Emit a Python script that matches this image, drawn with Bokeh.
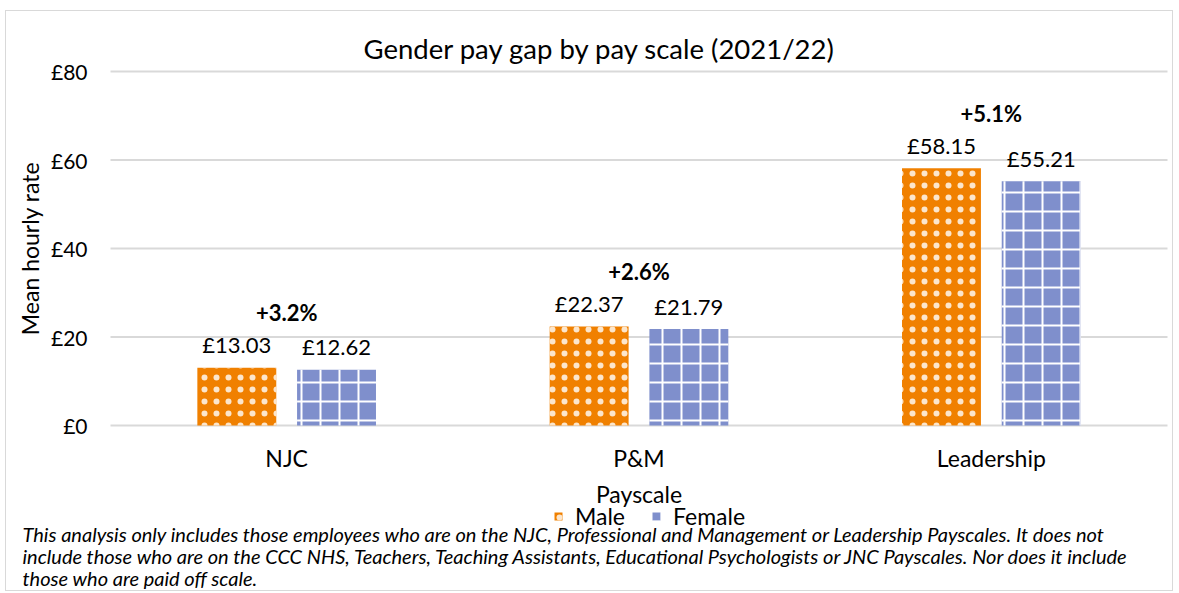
import math
from bokeh.plotting import figure
from bokeh.models import (ColumnDataSource, Range1d, LabelSet, Label,
                          Legend, LegendItem)
from bokeh.core.properties import value
from bokeh.transform import dodge
from bokeh.embed import file_html
from bokeh.resources import INLINE

# ---- data ----
categories = ["NJC", "P&M", "Leadership"]
male = [13.03, 22.37, 58.15]
female = [12.62, 21.79, 55.21]
gap_labels = ["+3.2%", "+2.6%", "+5.1%"]
y_ticks = [0, 20, 40, 60, 80]
y_tick_labels = ["£0", "£20", "£40", "£60", "£80"]
title_text = "Gender pay gap by pay scale (2021/22)"
y_label = "Mean hourly rate"
x_label = "Payscale"
series_names = ["Male", "Female"]
footnote = [
    "This analysis only includes those employees who are on the NJC, Professional and Management or Leadership Payscales. It does not",
    "include those who are on the CCC NHS, Teachers, Teaching Assistants, Educational Psychologists or JNC Payscales. Nor does it include",
    "those who are paid off scale.",
]

FONT = "Lato"
MALE_C = "#F08000"
FEMALE_C = "#7F8FCC"
GRID_C = "#D9D9D9"

# ---- canvas geometry (pixels) ----
W, H = 1168, 581
PL, PR, PT, PB = 104, 1161, 60, 414        # plot area inside the canvas
n = len(categories)
ux = (PR - PL) / n
uy = (PB - PT) / y_ticks[-1]
x0 = -0.5 - PL / ux
y1 = y_ticks[-1] + PT / uy

p = figure(width=W, height=H, output_backend="svg", toolbar_location=None,
           x_range=Range1d(x0, x0 + W / ux), y_range=Range1d(y1 - H / uy, y1),
           min_border=0, min_border_left=0, min_border_right=0,
           min_border_top=0, min_border_bottom=0)
p.axis.visible = False
p.grid.visible = False
p.outline_line_color = None
p.styles = {"border": "1px solid #D9D9D9", "margin-left": "5px", "margin-top": "10px"}

idx = list(range(n))
src = ColumnDataSource(dict(
    idx=idx,
    cat=categories,
    male=male,
    female=female,
    male_lbl=["£%.2f" % v for v in male],
    female_lbl=["£%.2f" % v for v in female],
    gap=gap_labels,
))
tsrc = ColumnDataSource(dict(y=y_ticks, lbl=y_tick_labels,
                             x0=[-0.5] * len(y_ticks), x1=[n - 0.5] * len(y_ticks)))

# gridlines
p.segment(x0="x0", y0="y", x1="x1", y1="y", source=tsrc, line_color=GRID_C, line_width=2)

# y tick labels
p.add_layout(LabelSet(x="x0", y="y", text="lbl", source=tsrc, x_offset=-23,
                      text_align="right", text_baseline="middle",
                      text_font=value(FONT), text_font_size="21px", text_color="#000000"))

BW = 0.224
OFF = 0.1415
rm = p.vbar(x=dodge("idx", -OFF), top="male", width=BW, source=src,
            fill_color=MALE_C, line_color=None,
            hatch_pattern="dot", hatch_color="white", hatch_scale=12, hatch_weight=0.4,
            hatch_alpha=0.8)
rf = p.vbar(x=dodge("idx", OFF), top="female", width=BW, source=src,
            fill_color=FEMALE_C, line_color=None,
            hatch_pattern="cross", hatch_color="white", hatch_scale=19, hatch_weight=2)

p.add_layout(LabelSet(x=dodge("idx", -OFF), y="male", text="male_lbl", source=src,
                      text_align="center", text_baseline="middle", y_offset=23,
                      text_font=value(FONT), text_font_size="22px", text_color="#000000"))
p.add_layout(LabelSet(x=dodge("idx", OFF), y="female", text="female_lbl", source=src,
                      text_align="center", text_baseline="middle", y_offset=23,
                      text_font=value(FONT), text_font_size="22px", text_color="#000000"))
p.add_layout(LabelSet(x="idx", y="male", text="gap", source=src,
                      text_align="center", text_baseline="middle", y_offset=55,
                      text_font=value(FONT), text_font_size="22px", text_font_style="bold",
                      text_color="#000000"))

# category labels (x axis)
p.add_layout(LabelSet(x="idx", y=value(0), text="cat", source=src,
                      text_align="center", text_baseline="middle", y_offset=-32,
                      text_font=value(FONT), text_font_size="23px", text_color="#000000"))

# axis titles
p.add_layout(Label(x=(n - 1) / 2, y=0, y_offset=-68, text=x_label,
                   text_align="center", text_baseline="middle",
                   text_font=FONT, text_font_size="23px", text_color="#000000"))
p.add_layout(Label(x=-0.5, y=y_ticks[-1] / 2, x_offset=-81, text=y_label, angle=math.pi / 2,
                   text_align="center", text_baseline="middle",
                   text_font=FONT, text_font_size="23px", text_color="#000000"))

# chart title
p.add_layout(Label(x=-0.5, y=y_ticks[-1], x_offset=253, y_offset=23, text=title_text,
                   text_align="left", text_baseline="middle",
                   text_font=FONT, text_font_size="27.5px", text_color="#000000"))

# legend
legend = Legend(items=[LegendItem(label=series_names[0], renderers=[rm]),
                       LegendItem(label=series_names[1], renderers=[rf])],
                orientation="horizontal", location=(547, 62),
                label_text_font=FONT, label_text_font_size="23px", label_text_color="#000000",
                glyph_width=10, glyph_height=10, label_standoff=12, spacing=26, label_height=22,
                padding=0, margin=0, border_line_color=None, background_fill_alpha=0)
p.add_layout(legend, "center")

# footnote
for i, line in enumerate(footnote):
    p.add_layout(Label(x=-0.5, y=0, x_offset=-88, y_offset=-(108 + 22 * i), text=line,
                       text_align="left", text_baseline="middle",
                       text_font=FONT, text_font_size="20px", text_font_style="italic",
                       text_color="#000000"))

open("out.html", "w").write(file_html(p, INLINE))
